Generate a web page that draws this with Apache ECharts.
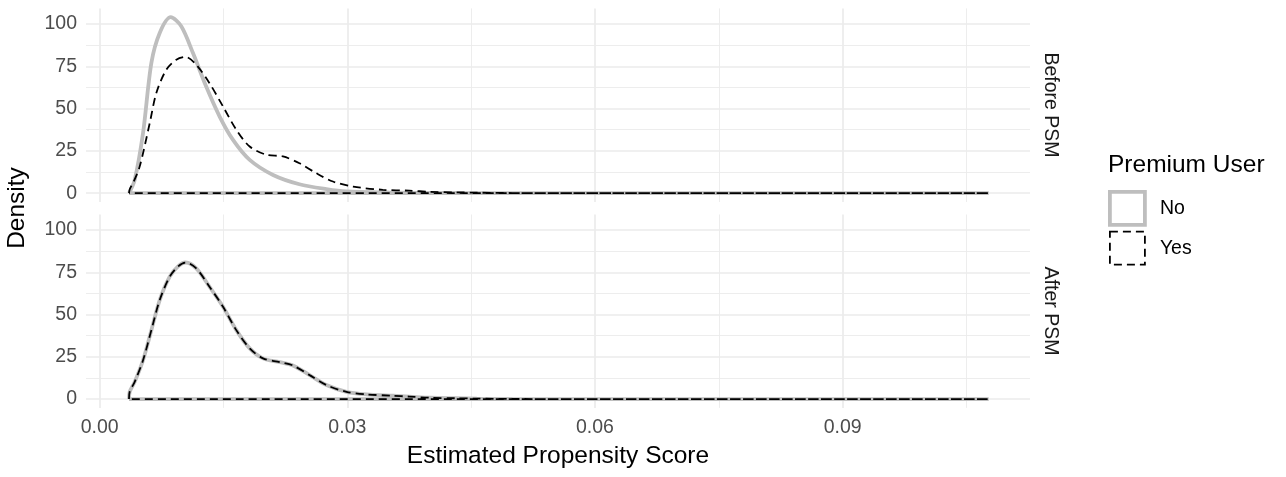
<!DOCTYPE html>
<html>
<head>
<meta charset="utf-8">
<script src="https://cdn.jsdelivr.net/npm/echarts@6/dist/echarts.min.js"></script>
<style>
html,body{margin:0;padding:0;background:#fff;}
#chart{width:1286px;height:477px;}
</style>
</head>
<body>
<div id="chart"></div>
<script>
// ---- data ----
var panels = ["Before PSM", "After PSM"];
var groups = ["No", "Yes"];
var xTickLabels = ["0.00", "0.03", "0.06", "0.09"];
var yTickLabels = ["0", "25", "50", "75", "100"];

var beforeNoScore = [0.00355, 0.00424, 0.00525, 0.00626, 0.00727, 0.0086, 0.00988, 0.0113, 0.0129, 0.01453, 0.01615, 0.01817, 0.021, 0.0242, 0.02746, 0.0299, 0.035, 0.04, 0.045, 0.05, 0.06, 0.1077];
var beforeNoDensity = [0, 7.9, 35.6, 77, 94.7, 104, 98.6, 82.8, 63, 45.3, 31.5, 19.7, 10.8, 5.3, 2.4, 1.0, 0.4, 0.15, 0.08, 0.03, 0, 0];

var beforeYesScore = [0.00355, 0.00365, 0.00404, 0.00484, 0.00606, 0.00686, 0.00807, 0.00928, 0.0104, 0.0117, 0.0133, 0.01494, 0.01655, 0.01817, 0.0202, 0.0222, 0.0242, 0.02624, 0.02826, 0.0307, 0.0343, 0.0375, 0.04, 0.0432, 0.0457, 0.05, 0.055, 0.1077];
var beforeYesDensity = [0, 2.5, 6, 15.7, 41.4, 59.2, 73, 78.9, 80.5, 75.9, 65, 51.2, 37.5, 27.6, 22.7, 21.7, 17.7, 11.8, 6.9, 3.9, 2.0, 1.5, 0.8, 0.5, 0.3, 0.1, 0, 0];

var afterNoScore = [0.00355, 0.00363, 0.00424, 0.00525, 0.00626, 0.00727, 0.00848, 0.00949, 0.0104, 0.0117, 0.0133, 0.01494, 0.01655, 0.01817, 0.01978, 0.0218, 0.0234, 0.02543, 0.02746, 0.0299, 0.0323, 0.0355, 0.0375, 0.04, 0.0432, 0.0457, 0.05, 0.055, 0.1077];
var afterNoDensity = [0, 4.3, 10.2, 23, 40.8, 58.6, 72.4, 78.5, 80.8, 77.3, 66.5, 54.6, 40.8, 30, 24.1, 21.9, 19.9, 14.2, 8.3, 4.3, 2.8, 2.0, 1.5, 0.8, 0.5, 0.3, 0.1, 0.02, 0];

var afterYesScore = [0.00355, 0.00363, 0.00424, 0.00525, 0.00626, 0.00727, 0.00848, 0.00949, 0.0104, 0.0117, 0.0133, 0.01494, 0.01655, 0.01817, 0.01978, 0.0218, 0.0234, 0.02543, 0.02746, 0.0299, 0.0323, 0.0355, 0.0375, 0.04, 0.0432, 0.0457, 0.05, 0.055, 0.1077];
var afterYesDensity = [0, 4.3, 10.2, 23, 40.8, 58.6, 72.4, 78.5, 80.8, 77.3, 66.5, 54.6, 40.8, 30, 24.1, 21.9, 19.9, 14.2, 8.3, 4.3, 2.8, 2.0, 1.5, 0.8, 0.5, 0.3, 0.1, 0.02, 0];

// ---- build closed density outlines (curve + baseline back to start) ----
function outline(xs, ys) {
  var pts = xs.map(function (x, i) { return [x, ys[i]]; });
  pts.push([xs[0], 0]);
  return pts;
}

var FONT = "'Liberation Sans', Arial, sans-serif";
var GRID_LEFT = 86, GRID_WIDTH = 944;
var XMIN = -0.00166, XMAX = 0.1127, YMIN = -5.2, YMAX = 109.2;

var majorLine = { show: true, showMinLine: false, showMaxLine: false, lineStyle: { color: '#EBEBEB', width: 1.7 } };
var minorLine = { show: true, lineStyle: { color: '#EBEBEB', width: 0.9 } };

function xAxisFor(idx, showLabels) {
  return {
    type: 'value', gridIndex: idx, min: XMIN, max: XMAX,
    minInterval: 0.03, maxInterval: 0.03, splitNumber: 4,
    axisLine: { show: false }, axisTick: { show: false },
    axisLabel: {
      show: showLabels, showMinLabel: false, showMaxLabel: false,
      color: '#4D4D4D', fontSize: 19.5, fontFamily: FONT, margin: 10,
      formatter: function (v) { var s = v.toFixed(2); return xTickLabels.indexOf(s) >= 0 ? s : ''; }
    },
    splitLine: majorLine,
    minorTick: { show: false, splitNumber: 2 },
    minorSplitLine: minorLine,
    name: showLabels ? 'Estimated Propensity Score' : '',
    nameLocation: 'middle', nameGap: 36,
    nameTextStyle: { color: '#000', fontSize: 24.5, fontFamily: FONT }
  };
}
function yAxisFor(idx) {
  return {
    type: 'value', gridIndex: idx, min: YMIN, max: YMAX,
    minInterval: 25, maxInterval: 25, splitNumber: 4,
    axisLine: { show: false }, axisTick: { show: false },
    axisLabel: {
      showMinLabel: false, showMaxLabel: false,
      color: '#4D4D4D', fontSize: 19.5, fontFamily: FONT, margin: 9,
      formatter: function (v) { var s = String(Math.round(v)); return (yTickLabels.indexOf(s) >= 0 && Math.abs(v - Math.round(v)) < 1e-6) ? s : ''; }
    },
    splitLine: majorLine,
    minorTick: { show: false, splitNumber: 2 },
    minorSplitLine: minorLine
  };
}

var greyStyle = { color: '#BEBEBE', width: 3.8, type: 'solid' };
var dashStyle = { color: '#000000', width: 1.8, type: [8, 5] };

function series(name, idx, xs, ys, style) {
  return {
    name: name, type: 'line', xAxisIndex: idx, yAxisIndex: idx,
    data: outline(xs, ys), showSymbol: false, symbol: 'none',
    smooth: 0.3, lineStyle: style, itemStyle: { color: style.color },
    animation: false, silent: true, z: name === 'No' ? 2 : 3
  };
}

var option = {
  backgroundColor: '#ffffff',
  animation: false,
  grid: [
    { left: GRID_LEFT, width: GRID_WIDTH, top: 8.4, height: 193.6 },
    { left: GRID_LEFT, width: GRID_WIDTH, top: 214.5, height: 193.4 }
  ],
  xAxis: [xAxisFor(0, false), xAxisFor(1, true)],
  yAxis: [yAxisFor(0), yAxisFor(1)],
  legend: {
    orient: 'vertical', left: 1108, top: 190, padding: 0,
    itemWidth: 35, itemHeight: 33, itemGap: 4,
    selectedMode: false,
    textStyle: { color: '#000', fontSize: 19.5, fontFamily: FONT, padding: [0, 0, 0, 10] },
    data: [
      { name: groups[0], icon: 'rect', itemStyle: { color: 'rgba(255,255,255,0)', borderColor: '#BEBEBE', borderWidth: 3.8, borderType: 'solid' } },
      { name: groups[1], icon: 'rect', itemStyle: { color: 'rgba(255,255,255,0)', borderColor: '#000000', borderWidth: 1.8, borderType: [8, 5] } }
    ]
  },
  graphic: [
    { type: 'text', left: 1108, top: 153, style: { text: 'Premium User', fill: '#000', font: '24.5px ' + FONT } },
    { type: 'text', x: 17, y: 208, rotation: Math.PI / 2, style: { text: 'Density', fill: '#000', font: '24.5px ' + FONT, align: 'center', verticalAlign: 'middle' } },
    { type: 'text', x: 1050, y: 105, rotation: -Math.PI / 2, style: { text: panels[0], fill: '#1A1A1A', font: '19.5px ' + FONT, align: 'center', verticalAlign: 'middle' } },
    { type: 'text', x: 1050, y: 311, rotation: -Math.PI / 2, style: { text: panels[1], fill: '#1A1A1A', font: '19.5px ' + FONT, align: 'center', verticalAlign: 'middle' } }
  ],
  series: [
    series(groups[0], 0, beforeNoScore, beforeNoDensity, greyStyle),
    series(groups[1], 0, beforeYesScore, beforeYesDensity, dashStyle),
    series(groups[0], 1, afterNoScore, afterNoDensity, greyStyle),
    series(groups[1], 1, afterYesScore, afterYesDensity, dashStyle)
  ]
};

var chart = echarts.init(document.getElementById('chart'), null, { renderer: 'canvas' });
chart.setOption(option);
</script>
</body>
</html>
